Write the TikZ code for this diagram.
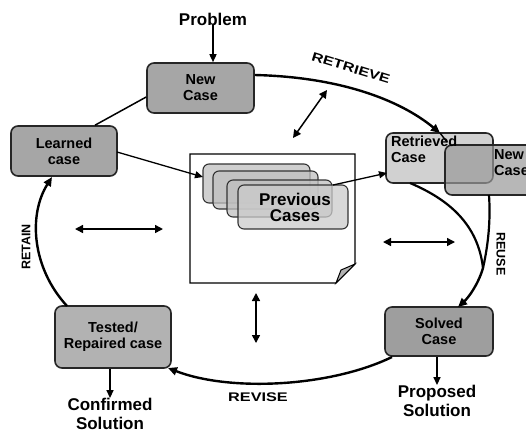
\documentclass[tikz,border=0pt]{standalone}
\usepackage{fontspec}
\setmainfont{Liberation Sans}
\usetikzlibrary{arrows.meta}
\begin{document}
\begin{tikzpicture}[x=1pt,y=-1pt,
  box/.style={draw=black!85, line width=1.6pt, rounded corners=7pt, fill=black!35, align=center, font=\bfseries\fontsize{14.5}{16}\selectfont, inner sep=0pt},
  card/.style={draw=black!80, line width=1.1pt, rounded corners=6pt, fill=black!25, fill opacity=0.75},
  cyc/.style={line width=2.4pt, -{Triangle[length=9pt,width=8pt]}},
  thin/.style={line width=1.3pt, -{Triangle[length=8pt,width=7pt]}},
  dbl/.style={line width=1.5pt, {Triangle[length=8pt,width=8pt]}-{Triangle[length=8pt,width=8pt]}},
  lab/.style={font=\bfseries\fontsize{12.5}{14}\selectfont},
  big/.style={font=\bfseries\fontsize{17}{19}\selectfont, align=center}
]
\clip (0,0) rectangle (526,437);
\fill[white] (0,0) rectangle (526,437);

% central document
\draw[line width=1.2pt, fill=white] (190,154) -- (355,154) -- (355,264) -- (336,283) -- (190,283) -- cycle;
\draw[line width=1pt, fill=black!30] (355,264) -- (336,283) -- (341,270) -- cycle;

% stacked cards
\draw[card] (203,164) rectangle (310,203);
\draw[card] (213,171) rectangle (318,209);
\draw[card] (227,180) rectangle (332,217);
\draw[card, fill=black!20] (238,185) rectangle (348,229);
\node[big, inner sep=0pt] (prev) at (295,207) {Previous\\[-3pt]Cases};
\coordinate (cardL) at (203,177);
\coordinate (cardR) at (333,185);

% boxes
\node[box, minimum width=107pt, minimum height=50pt] (newcase) at (200.5,88) {New\\Case};
\node[box, minimum width=106pt, minimum height=50pt] (learned) at (64,151) {Learned\\case};
\node[box, fill=black!18, minimum width=107pt, minimum height=50pt] (retrieved) at (439.5,158) {};
\node[box, fill=black!40, fill opacity=0.7, minimum width=100pt, minimum height=50pt] (newright) at (495,170) {};
\node[anchor=north west, align=left, inner sep=0pt, font=\bfseries\fontsize{14.5}{16}\selectfont] (rtext) at (391,136) {Retrieved\\Case};
\node[anchor=north west, align=left, inner sep=0pt, font=\bfseries\fontsize{14.5}{16}\selectfont] (ntext) at (494,149) {New\\Case};
\node[box, fill=black!38, minimum width=108pt, minimum height=49pt] (solved) at (439,331.5) {Solved\\Case};
\node[box, fill=black!30, minimum width=116pt, minimum height=62pt] (tested) at (113,337) {Tested/\\Repaired case};

% outside texts
\node[font=\bfseries\fontsize{17}{19}\selectfont, inner sep=0pt] (problem) at (213,19) {Problem};
\node[big, inner sep=0pt] (proposed) at (437,401) {Proposed\\Solution};
\node[big, inner sep=0pt] (confirmed) at (110,414) {Confirmed\\Solution};

% arrows to/from outside texts
\draw[thin, line width=1.5pt] (problem.south) -- (newcase.north -| problem.south);
\draw[thin, line width=1.5pt] (solved.south -| proposed.north) -- (proposed.north);
\draw[thin, line width=1.5pt] (tested.south -| confirmed.north) -- (confirmed.north);

% cycle
\coordinate (rtop) at (440,133);
\draw[cyc] (newcase.east |- 0,75) .. controls (340,77) and (400,100) .. (rtop);
\draw[line width=1.4pt] (rtop) -- (447,142);
\coordinate (reuse) at (483,268);
\draw[line width=2.2pt] (410,183) .. controls (450,200) and (478,225) .. (reuse);
\draw[line width=2.2pt] (489,195) .. controls (491,225) and (487,250) .. (reuse);
\draw[cyc] (reuse) .. controls (478,285) and (468,298) .. (458,307);
\draw[cyc] (392,357) .. controls (330,387) and (230,392) .. (168,368);
\draw[cyc] (67,306) .. controls (32,268) and (28,215) .. (52,177);
\draw[line width=1.5pt] (learned.north -| 95,0) -- (newcase.west |- 0,97);

% thin arrows through the case base
\draw[thin] (117,152) -- (cardL);
\draw[thin] (cardR) -- (387,173);

% double arrows
\draw[dbl] (293,138) -- (327,90);
\draw[dbl] (75,229) -- (163,229);
\draw[dbl] (383,242) -- (455,242);
\draw[dbl] (256,293) -- (256,343);

% labels
\node[lab, rotate=-17] (lretrieve) at (351,68) {\scalebox{1.3}[1]{RETRIEVE}};
\node[lab, rotate=-90] (lreuse) at (501,254) {REUSE};
\node[lab] (lrevise) at (258,397) {\scalebox{1.3}[1]{REVISE}};
\node[lab, rotate=90] (lretain) at (26,247) {RETAIN};
\end{tikzpicture}
\end{document}
